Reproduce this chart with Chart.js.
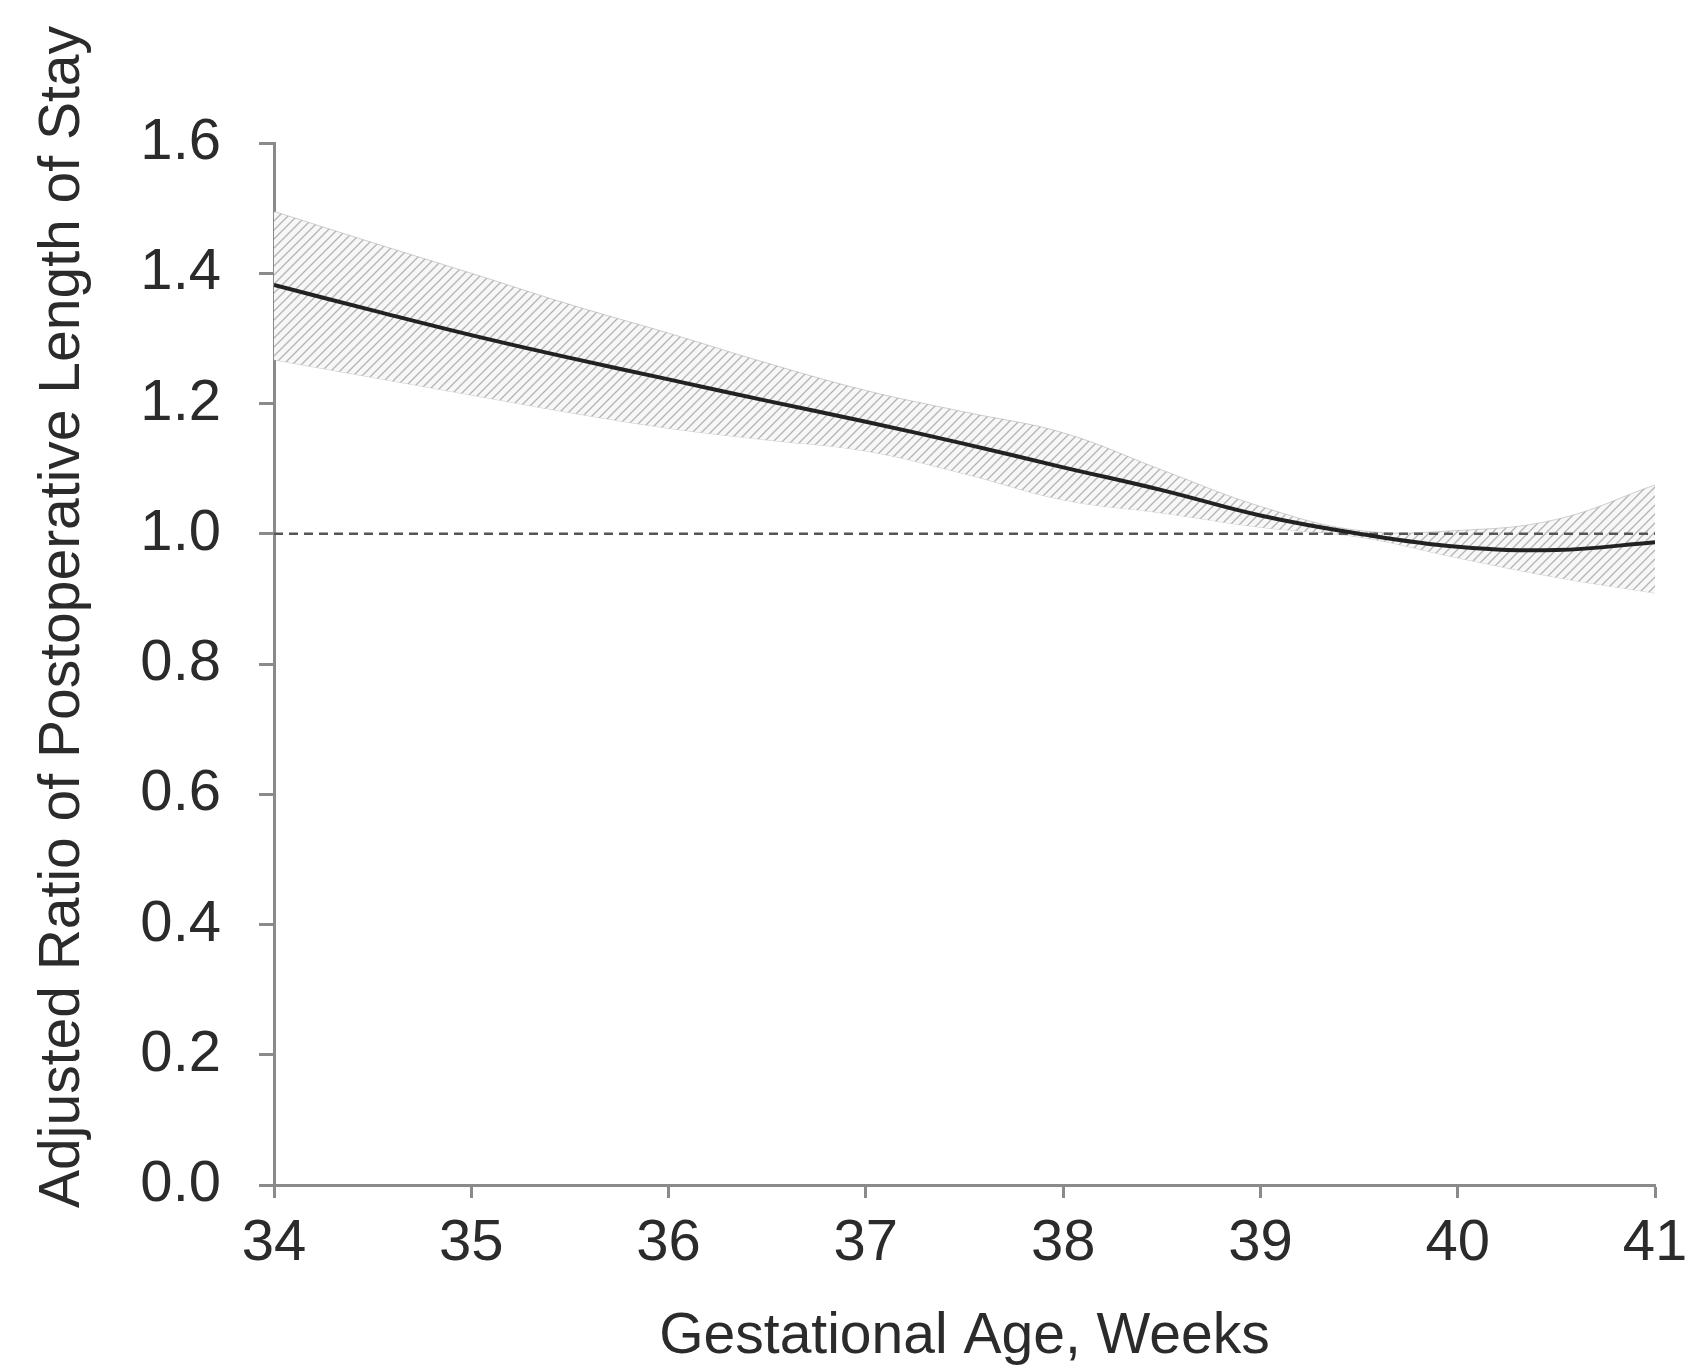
<!DOCTYPE html>
<html>
<head>
<meta charset="utf-8">
<script src="https://cdn.jsdelivr.net/npm/chart.js@4/dist/chart.umd.min.js"></script>
<style>
  html, body { margin: 0; padding: 0; background: #ffffff; }
  #wrap { width: 1689px; height: 1371px; position: relative; }
</style>
</head>
<body>
<div id="wrap"><canvas id="c" width="1689" height="1371"></canvas></div>
<script>
// ---- Data ----
const weeks = [34, 34.5, 35, 35.5, 36, 36.5, 37, 37.5, 38, 38.5, 39, 39.5, 40, 40.5, 41];
const ratio = [1.382, 1.343, 1.305, 1.270, 1.237, 1.204, 1.172, 1.138, 1.102, 1.067, 1.028, 1.000, 0.980, 0.975, 0.987];
const upperCI = [1.495, 1.447, 1.400, 1.352, 1.308, 1.262, 1.220, 1.187, 1.155, 1.098, 1.042, 1.005, 1.005, 1.022, 1.075];
const lowerCI = [1.267, 1.240, 1.213, 1.186, 1.162, 1.144, 1.127, 1.092, 1.052, 1.032, 1.010, 0.995, 0.963, 0.933, 0.909];
const refWeeks = [34, 41];
const refValues = [1.0, 1.0];
const xTicks = [34, 35, 36, 37, 38, 39, 40, 41];
const yTicks = [0.0, 0.2, 0.4, 0.6, 0.8, 1.0, 1.2, 1.4, 1.6];
const xTitle = "Gestational Age, Weeks";
const yTitle = "Adjusted Ratio of Postoperative Length of Stay";

const toXY = (xs, ys) => xs.map((x, i) => ({ x: x, y: ys[i] }));

const FONT = "'Liberation Sans', Arial, sans-serif";
const TEXT = '#2b2b2b';
const AXIS = '#8a8a8a';

// hatch pattern for the confidence band
function makeHatch() {
  const s = 9;
  const p = document.createElement('canvas');
  p.width = s; p.height = s;
  const g = p.getContext('2d');
  g.fillStyle = '#f7f7f7';
  g.fillRect(0, 0, s, s);
  g.strokeStyle = '#b4b4b4';
  g.lineWidth = 1.3;
  g.beginPath();
  g.moveTo(0, s); g.lineTo(s, 0);
  g.moveTo(-s / 2, s / 2); g.lineTo(s / 2, -s / 2);
  g.moveTo(s / 2, s + s / 2); g.lineTo(s + s / 2, s / 2);
  g.stroke();
  return g.createPattern(p, 'repeat');
}

const yTitlePlugin = {
  id: 'yTitlePlugin',
  afterDraw(chart) {
    const ctx = chart.ctx;
    ctx.save();
    ctx.translate(63, 617);
    ctx.rotate(-Math.PI / 2);
    ctx.font = '57px ' + FONT;
    ctx.fillStyle = TEXT;
    ctx.textAlign = 'center';
    ctx.textBaseline = 'middle';
    ctx.fillText(yTitle, 0, 0);
    ctx.restore();
  }
};

const ctx = document.getElementById('c').getContext('2d');
const hatch = makeHatch();

new Chart(ctx, {
  type: 'line',
  data: {
    datasets: [
      {
        label: 'Upper 95% CI',
        data: toXY(weeks, upperCI),
        borderColor: 'rgba(175,175,175,0.6)',
        borderWidth: 1,
        backgroundColor: hatch,
        fill: '+1',
        pointRadius: 0,
        tension: 0.4,
        order: 3
      },
      {
        label: 'Lower 95% CI',
        data: toXY(weeks, lowerCI),
        borderColor: 'rgba(175,175,175,0.6)',
        borderWidth: 1,
        fill: false,
        pointRadius: 0,
        tension: 0.4,
        order: 3
      },
      {
        label: 'Reference',
        data: toXY(refWeeks, refValues),
        borderColor: '#555555',
        borderWidth: 2.5,
        borderDash: [9, 6],
        fill: false,
        pointRadius: 0,
        order: 2
      },
      {
        label: 'Adjusted ratio',
        data: toXY(weeks, ratio),
        borderColor: '#222222',
        borderWidth: 4,
        fill: false,
        pointRadius: 0,
        tension: 0.4,
        order: 1
      }
    ]
  },
  options: {
    responsive: false,
    animation: false,
    devicePixelRatio: 1,
    layout: { padding: { top: 143, right: 34, left: 0, bottom: 0 } },
    plugins: {
      legend: { display: false },
      tooltip: { enabled: false },
      title: { display: false }
    },
    scales: {
      x: {
        type: 'linear',
        min: 34,
        max: 41,
        afterBuildTicks(scale) { scale.ticks = xTicks.map(v => ({ value: v })); },
        afterFit(scale) { scale.height = 186; scale.paddingRight = 0; scale.paddingLeft = 0; },
        border: { display: true, color: AXIS, width: 3 },
        grid: { display: true, drawOnChartArea: false, drawTicks: true, tickLength: 13, tickColor: AXIS, tickWidth: 3 },
        ticks: {
          color: TEXT,
          padding: 11,
          font: { family: FONT, size: 58 },
          maxRotation: 0,
          callback: v => String(v)
        },
        title: {
          display: true,
          text: xTitle,
          color: TEXT,
          font: { family: FONT, size: 57, lineHeight: 1.2 },
          padding: { top: 0, bottom: 0 }
        }
      },
      y: {
        type: 'linear',
        min: 0,
        max: 1.6,
        afterBuildTicks(scale) { scale.ticks = yTicks.map(v => ({ value: v })); },
        afterFit(scale) { scale.width = 274; scale.paddingTop = 0; scale.paddingBottom = 0; },
        border: { display: true, color: AXIS, width: 3 },
        grid: { display: true, drawOnChartArea: false, drawTicks: true, tickLength: 15, tickColor: AXIS, tickWidth: 3 },
        ticks: {
          color: TEXT,
          padding: 38,
          font: { family: FONT, size: 58 },
          callback: v => Number(v).toFixed(1)
        }
      }
    }
  },
  plugins: [yTitlePlugin]
});
</script>
</body>
</html>
